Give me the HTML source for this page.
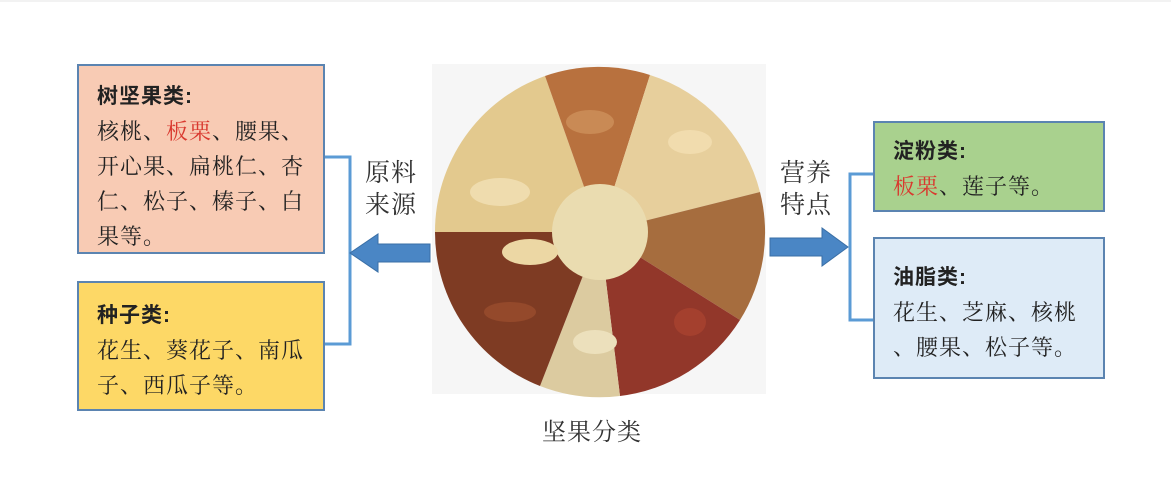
<!DOCTYPE html>
<html><head><meta charset="utf-8"><style>
body{margin:0;width:1171px;height:495px;background:#fff;position:relative;overflow:hidden;font-family:"Liberation Serif","Noto Serif CJK SC",serif;color:#222}
.box{position:absolute;border:2px solid #5b84b1;box-sizing:border-box;font-size:22px;line-height:35px;padding:12px 0 0 18px;letter-spacing:1px}
.box b{font-weight:bold;font-family:"Liberation Sans","Noto Sans CJK SC",sans-serif;font-size:21px}
.red{color:#d9392f}
.lbl{position:absolute;font-size:25px;line-height:32px;color:#333;letter-spacing:1px}
</style></head><body>
<div style="position:absolute;left:0;top:0;width:1171px;height:2px;background:#f2f2f2"></div>
<div class="box" style="left:77px;top:64px;width:248px;height:190px;background:#f8cbb4"><b>树坚果类:</b><br>核桃、<span class="red">板栗</span>、腰果、<br>开心果、扁桃仁、杏<br>仁、松子、榛子、白<br>果等。</div>
<div class="box" style="left:77px;top:281px;width:248px;height:130px;background:#fdd866;padding-top:14px"><b>种子类:</b><br>花生、葵花子、南瓜<br>子、西瓜子等。</div>
<div class="box" style="left:873px;top:121px;width:232px;height:91px;background:#a9d18e;padding-top:10px"><b>淀粉类:</b><br><span class="red">板栗</span>、莲子等。</div>
<div class="box" style="left:873px;top:237px;width:232px;height:142px;background:#deebf7;padding-top:20px"><b>油脂类:</b><br>花生、芝麻、核桃<br>、腰果、松子等。</div>
<div class="lbl" style="left:365px;top:158px">原料<br>来源</div>
<div class="lbl" style="left:780px;top:158px">营养<br>特点</div>
<div class="lbl" style="left:542px;top:417px;font-size:24px">坚果分类</div>
<svg width="1171" height="495" style="position:absolute;left:0;top:0">
<polyline points="325,157 350,157 350,344 325,344" fill="none" stroke="#5b9bd5" stroke-width="3"/>
<polyline points="873,174 850,174 850,320 873,320" fill="none" stroke="#5b9bd5" stroke-width="3"/>
<polygon points="430,244 378,244 378,234 350,253 378,272 378,262 430,262" fill="#4a86c5" stroke="#3a6fa6" stroke-width="1"/>
<polygon points="770,238 822,238 822,228 848,247 822,266 822,256 770,256" fill="#4a86c5" stroke="#3a6fa6" stroke-width="1"/>
<rect x="432" y="64" width="334" height="330" fill="#f6f6f6"/>
<g transform="translate(600,232)">
<path d="M0,0 L-165,0 A165,165 0 0 1 -55,-156 Z" fill="#e3c98e"/>
<path d="M0,0 L-55,-156 A165,165 0 0 1 50,-157 Z" fill="#b8713e"/>
<path d="M0,0 L50,-157 A165,165 0 0 1 160,-40 Z" fill="#e7cf9c"/>
<path d="M0,0 L160,-40 A165,165 0 0 1 140,88 Z" fill="#a66d3e"/>
<path d="M0,0 L140,88 A165,165 0 0 1 20,164 Z" fill="#92372a"/>
<path d="M0,0 L20,164 A165,165 0 0 1 -60,154 Z" fill="#dccba0"/>
<path d="M0,0 L-60,154 A165,165 0 0 1 -165,0 Z" fill="#7e3b23"/>
<circle r="48" fill="#eadcb0"/>
<ellipse cx="-100" cy="-40" rx="30" ry="14" fill="#efdcae"/>
<ellipse cx="-70" cy="20" rx="28" ry="13" fill="#ecd7a4"/>
<ellipse cx="-10" cy="-110" rx="24" ry="12" fill="#c98a55"/>
<ellipse cx="90" cy="-90" rx="22" ry="12" fill="#f1dcae"/>
<ellipse cx="90" cy="90" rx="16" ry="14" fill="#a4402e"/>
<ellipse cx="-90" cy="80" rx="26" ry="10" fill="#94492b"/>
<ellipse cx="-5" cy="110" rx="22" ry="12" fill="#ece0bc"/>
</g>
</svg>
</body></html>
